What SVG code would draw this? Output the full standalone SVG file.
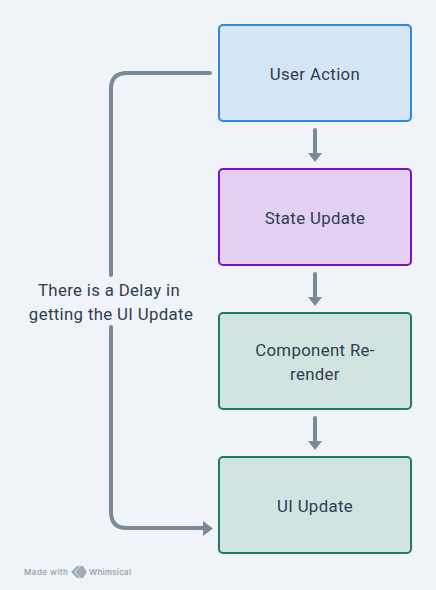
<svg xmlns="http://www.w3.org/2000/svg" width="436" height="590" viewBox="0 0 436 590">
<style>
.bg{fill:#f0f4f8}
.box{stroke-width:2}
.t{font-family:"Roboto","Liberation Sans",sans-serif;font-size:16.8px;fill:#2d3e50;text-anchor:middle;letter-spacing:.35px}
.c{fill:none;stroke:#7b8a99;stroke-width:4;stroke-linecap:round}
.h{fill:#7b8a99}
.w{font-family:"Inter","Liberation Sans",sans-serif;font-size:8px;font-weight:600;fill:#9aa5b1}
</style>
<rect class="bg" width="436" height="590"/>
<g id="connectors">
<path class="c" d="M315 130V153"/><path class="h" d="M308 153H322L315 162Z"/>
<path class="c" d="M315 274V297"/><path class="h" d="M308 297H322L315 306Z"/>
<path class="c" d="M315 418V441"/><path class="h" d="M308 441H322L315 450Z"/>
<path class="c" d="M210 73H127Q111 73 111 89V275"/>
<path class="c" d="M111 327V512Q111 528 127 528H204"/>
<path class="h" d="M203 521V536L213 528.500Z"/>
</g>
<g id="user-action"><rect class="box" x="219" y="25" width="192" height="96" rx="4" fill="#d4e5f6" stroke="#2b8ade"/><text class="t" x="315" y="80">User Action</text></g>
<g id="state-update"><rect class="box" x="219" y="169" width="192" height="96" rx="4" fill="#e3d0f4" stroke="#7b10c4"/><text class="t" x="315" y="224">State Update</text></g>
<g id="component-rerender"><rect class="box" x="219" y="313" width="192" height="96" rx="4" fill="#d2e4e1" stroke="#1c7a68"/><text class="t" x="315" y="356">Component Re-</text><text class="t" x="315" y="380">render</text></g>
<g id="ui-update"><rect class="box" x="219" y="457" width="192" height="96" rx="4" fill="#d2e4e1" stroke="#1c7a68"/><text class="t" x="315" y="512">UI Update</text></g>
<g id="delay-label"><text class="t" x="109" y="296">There is a Delay in</text><text class="t" x="111" y="320">getting the UI Update</text></g>
<g id="watermark"><text class="w" x="24" y="575" textLength="44">Made with</text><path class="h" opacity=".7" fill-rule="evenodd" d="M71 572L77 566H80L74.500 572L80 578H77ZM75.500 572L80.500 566H83L87 572L83 578H80.500Z"/><text class="w" x="89" y="575" textLength="42">Whimsical</text></g>
</svg>
